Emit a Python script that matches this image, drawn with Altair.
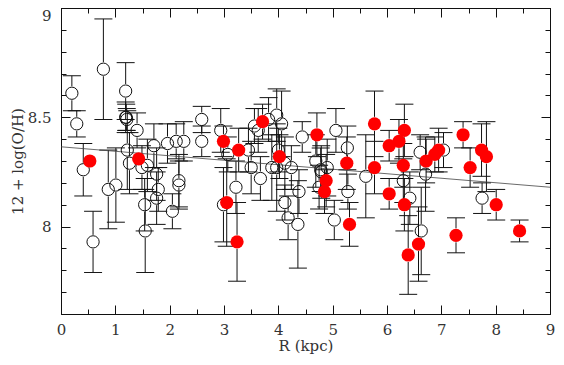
import altair as alt
import pandas as pd

# ---------------- data ----------------
open_r = [0.20, 0.29, 0.78, 1.19, 1.19, 1.20, 1.21, 1.40, 1.22, 1.26,
          0.41, 0.87, 1.01, 0.59, 1.55, 1.54, 1.71, 1.76, 1.79, 1.76,
          1.96, 2.05, 2.17, 2.17, 2.26, 2.59, 2.59, 2.94, 3.07, 2.99,
          3.22, 3.45, 3.50, 3.56, 3.63, 3.67, 3.82, 3.97, 4.06, 4.00,
          3.88, 3.97, 4.12, 4.24, 4.12, 4.18, 4.36, 4.38, 4.44, 4.69,
          4.78, 4.79, 4.75, 4.90, 5.03, 5.06, 5.27, 5.28, 5.61, 6.30,
          6.42, 6.63, 6.61, 6.71, 7.04, 7.75, 1.49, 1.59, 2.12]
open_oh = [8.61, 8.47, 8.72, 8.62, 8.50, 8.50, 8.49, 8.44, 8.35, 8.29,
           8.26, 8.17, 8.19, 7.93, 7.98, 8.10, 8.37, 8.24, 8.17, 8.13,
           8.38, 8.07, 8.21, 8.19, 8.39, 8.49, 8.39, 8.44, 8.33, 8.10,
           8.18, 8.35, 8.27, 8.46, 8.44, 8.22, 8.49, 8.51, 8.47, 8.35,
           8.27, 8.27, 8.29, 8.27, 8.11, 8.04, 8.01, 8.16, 8.41, 8.30,
           8.26, 8.25, 8.18, 8.27, 8.03, 8.44, 8.36, 8.16, 8.23, 8.21,
           8.13, 7.98, 8.34, 8.24, 8.35, 8.13, 8.27, 8.28, 8.39]
open_err = [0.08, 0.06, 0.23, 0.13, 0.07, 0.06, 0.05, 0.08, 0.18, 0.14,
            0.12, 0.18, 0.17, 0.14, 0.19, 0.12, 0.10, 0.12, 0.10, 0.12,
            0.09, 0.08, 0.12, 0.11, 0.09, 0.06, 0.07, 0.10, 0.08, 0.17,
            0.12, 0.10, 0.12, 0.08, 0.10, 0.10, 0.10, 0.12, 0.15, 0.10,
            0.15, 0.20, 0.12, 0.10, 0.08, 0.10, 0.20, 0.10, 0.07, 0.12,
            0.10, 0.12, 0.10, 0.13, 0.09, 0.10, 0.10, 0.08, 0.19, 0.10,
            0.12, 0.20, 0.08, 0.17, 0.08, 0.07, 0.10, 0.12, 0.08]

red_r = [0.53, 1.43, 2.99, 3.27, 3.05, 3.24, 3.71, 4.02, 4.71, 4.88,
         4.85, 5.26, 5.31, 5.77, 5.77, 6.04, 6.22, 6.32, 6.30, 6.04,
         6.32, 6.39, 6.58, 6.72, 6.88, 6.95, 7.27, 7.40, 7.53, 7.74,
         7.83, 8.01, 8.44]
red_oh = [8.30, 8.31, 8.39, 8.35, 8.11, 7.93, 8.48, 8.32, 8.42, 8.21,
          8.16, 8.29, 8.01, 8.47, 8.27, 8.37, 8.39, 8.44, 8.28, 8.15,
          8.10, 7.87, 7.92, 8.30, 8.33, 8.35, 7.96, 8.42, 8.27, 8.35,
          8.32, 8.10, 7.98]
red_err = [0.00, 0.00, 0.07, 0.10, 0.20, 0.18, 0.08, 0.10, 0.10, 0.12,
           0.10, 0.12, 0.10, 0.15, 0.12, 0.07, 0.10, 0.12, 0.10, 0.07,
           0.12, 0.18, 0.17, 0.10, 0.08, 0.10, 0.08, 0.06, 0.09, 0.12,
           0.16, 0.07, 0.05]

fit_r = [0.0, 9.0]
fit_oh = [8.365, 8.18]

x_major = list(range(10))
x_minor = [i * 0.5 for i in range(19)]
y_major = [8.0, 8.5, 9.0]
y_minor = [round(7.6 + 0.1 * i, 1) for i in range(15)]

# ---------------- tables ----------------
df_open = pd.DataFrame({"R": open_r, "OH": open_oh, "err": open_err, "kind": "open"})
df_red = pd.DataFrame({"R": red_r, "OH": red_oh, "err": red_err, "kind": "red"})
df = pd.concat([df_open, df_red], ignore_index=True)
df["hi"] = df["OH"] + df["err"]
df["lo"] = df["OH"] - df["err"]
df_bars = df[df["err"] > 0]
df_fit = pd.DataFrame({"R": fit_r, "OH": fit_oh})

FONT = "DejaVu Serif"
INK = "#111111"
TXT = "#333333"
FS = 15

xs = alt.Scale(domain=[0, 9], nice=False, zero=False)
ys = alt.Scale(domain=[7.6, 9.0], nice=False, zero=False)


def tick_axis(orient, values, size, **kw):
    return alt.Axis(orient=orient, values=values, tickSize=size, offset=-size,
                    domain=False, grid=False, ticks=True, tickColor=INK,
                    tickWidth=1, **kw)


ax_bottom = tick_axis("bottom", x_major, 9, labels=True, title="R (kpc)",
                      format="d", labelFlush=False, labelPadding=8,
                      labelFont=FONT, labelFontSize=FS, labelColor=TXT,
                      titleFont=FONT, titleFontSize=FS, titleFontWeight="normal",
                      titleColor=TXT, titlePadding=1)
ax_left = tick_axis("left", y_major, 9, labels=True, title="12 + log(O/H)",
                    format="~g", labelFlush=True, labelFlushOffset=0,
                    labelPadding=10,
                    labelFont=FONT, labelFontSize=FS, labelColor=TXT,
                    titleFont=FONT, titleFontSize=FS, titleFontWeight="normal",
                    titleColor=TXT, titlePadding=2)
ax_bottom_minor = tick_axis("bottom", x_minor, 5, labels=False, title=None)
ax_left_minor = tick_axis("left", y_minor, 5, labels=False, title=None)
ax_top = tick_axis("top", x_major, 9, labels=False, title=None)
ax_right = tick_axis("right", y_major, 9, labels=False, title=None)
ax_top_minor = tick_axis("top", x_minor, 5, labels=False, title=None)
ax_right_minor = tick_axis("right", y_minor, 5, labels=False, title=None)

bars = alt.Chart(df_bars)

upper = bars.mark_rule(color=INK, strokeWidth=1, yOffset=-7).encode(
    x=alt.X("R:Q", scale=xs, axis=ax_bottom),
    y=alt.Y("OH:Q", scale=ys, axis=ax_left),
    y2="hi:Q",
)
lower = bars.mark_rule(color=INK, strokeWidth=1, yOffset=7).encode(
    x=alt.X("R:Q", scale=xs, axis=ax_bottom_minor),
    y=alt.Y("OH:Q", scale=ys, axis=ax_left_minor),
    y2="lo:Q",
)
cap_hi = bars.mark_tick(orient="horizontal", size=18, thickness=1, color=INK, opacity=1).encode(
    x=alt.X("R:Q", scale=xs, axis=ax_top),
    y=alt.Y("hi:Q", scale=ys, axis=ax_right),
)
cap_lo = bars.mark_tick(orient="horizontal", size=18, thickness=1, color=INK, opacity=1).encode(
    x=alt.X("R:Q", scale=xs, axis=ax_top_minor),
    y=alt.Y("lo:Q", scale=ys, axis=ax_right_minor),
)

fit = alt.Chart(df_fit).mark_line(color="#444444", strokeWidth=0.8, clip=True).encode(
    x=alt.X("R:Q", scale=xs, axis=None),
    y=alt.Y("OH:Q", scale=ys, axis=None),
)

opens = alt.Chart(df_open).mark_point(shape="circle", filled=False, size=150,
                                      color=INK, strokeWidth=1, opacity=1).encode(
    x=alt.X("R:Q", scale=xs, axis=None),
    y=alt.Y("OH:Q", scale=ys, axis=None),
)

reds = alt.Chart(df_red).mark_point(shape="circle", filled=True, size=175,
                                    color="#ff0000", opacity=1, strokeWidth=0).encode(
    x=alt.X("R:Q", scale=xs, axis=None),
    y=alt.Y("OH:Q", scale=ys, axis=None),
)

chart = (
    alt.layer(upper, lower, cap_hi, cap_lo, fit, opens, reds)
    .resolve_axis(x="independent", y="independent")
    .properties(
        width=489,
        height=306,
        autosize=alt.AutoSizeParams(type="none"),
        padding={"left": 53, "top": 0, "right": 6, "bottom": 43},
        background="white",
    )
    .configure_view(stroke=INK, strokeWidth=1)
)

chart.save("out.html", embed_options={"renderer": "svg", "actions": False})
